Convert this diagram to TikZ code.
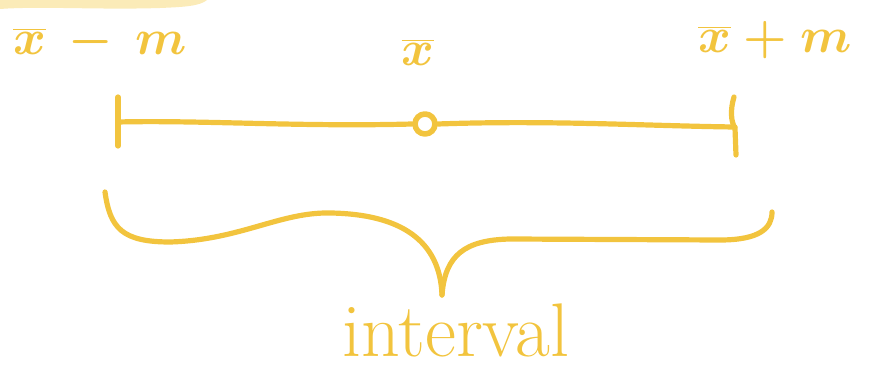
\documentclass[tikz,border=0pt]{standalone}
\usepackage{fontspec}
\definecolor{inky}{HTML}{F2C43E}
\definecolor{hilite}{HTML}{FBEBB8}
\begin{document}
\begin{tikzpicture}[x=0.5pt,y=-0.5pt,
  ink/.style={draw=inky, line width=2.6pt, line cap=round, line join=round},
  lab/.style={text=inky, inner sep=0pt, font=\fontsize{46}{46}\selectfont\boldmath}]
\useasboundingbox (0,0) rectangle (873,373);
% highlight blob
\fill[hilite] (0,0) -- (207,0) .. controls (200,6) and (185,7) .. (160,8) .. controls (100,10) and (40,6) .. (0,9) -- cycle;
% labels
\node[lab] (lm) at (100,42) {$\overline{x}\,-\,m$};
\node[lab, font=\fontsize{52}{52}\selectfont\boldmath] (mid) at (418,52) {$\overline{x}$};
\node[lab] (rm) at (775,40) {$\overline{x}+m$};
% interval line
\coordinate (L) at (118,122);
\coordinate (R) at (735,127);
\coordinate (Lt) at (118,97);
\coordinate (Lb) at (118,146);
\coordinate (Rt) at (734,97);
\coordinate (Rb) at (736,155);
\node[circle, ink, line width=2.8pt, minimum size=10pt, inner sep=0pt] (c) at (425,124) {};
\draw[ink] (L) .. controls (200,120) and (300,127) .. (c.west);
\draw[ink] (c.east) .. controls (550,120) and (650,126) .. (R);
\draw[ink] (Lt) -- (Lb);
\draw[ink] (Rt) .. controls (730,110) and (731,122) .. (735,128) -- (Rb);
% brace
\coordinate (BL) at (105,192);
\coordinate (BT) at (442,295);
\coordinate (BR) at (772,212);
\draw[ink] (BL) .. controls (110,228) and (122,242) .. (170,242)
  .. controls (240,240) and (280,212) .. (330,213)
  .. controls (400,214) and (440,240) .. (BT);
\draw[ink] (BT) .. controls (445,255) and (465,240) .. (510,239)
  -- (720,240) .. controls (760,240) and (772,228) .. (BR);
% label
\node[lab, font=\fontsize{38}{38}\selectfont] (iv) at (456,330) {interval};
\end{tikzpicture}
\end{document}
